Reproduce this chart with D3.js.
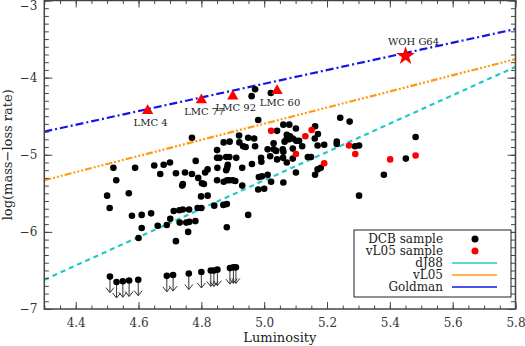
<!DOCTYPE html>
<meta charset="utf-8">
<title>Mass-loss rate vs luminosity</title>
<style>

body {
  margin: 0px;
  background: #fff;
}

text {
  font-family: "DejaVu Serif", serif;
  fill: #222;
}

.tick line {
  stroke: #444;
}

</style>

<script src="https://d3js.org/d3.v7.min.js"></script>

<body>
<script>

var width = 525, height = 346;

// DCB sample: [luminosity, log(mass-loss rate)]
var dcb = [
  [4.520,-5.17],[4.589,-5.17],[4.650,-5.14],[4.680,-5.13],[4.700,-5.10],[4.669,-5.25],[4.719,-5.24],[4.748,-5.23],
  [4.529,-5.33],[4.739,-5.40],[4.741,-5.38],[4.500,-5.53],[4.569,-5.50],[4.508,-5.69],[4.579,-5.79],[4.610,-5.78],
  [4.640,-5.76],[4.712,-5.73],[4.730,-5.72],[4.741,-5.71],[4.701,-5.83],[4.661,-5.92],[4.690,-5.91],[4.610,-5.95],
  [4.731,-5.88],[4.752,-5.88],[4.762,-5.87],[4.600,-6.08],[4.719,-6.12],[4.758,-6.00],
  [4.981,-4.55],[5.041,-4.69],[4.770,-4.78],[4.920,-4.75],[4.949,-4.78],[4.968,-4.79],[4.871,-4.84],[4.890,-4.83],
  [4.921,-4.84],[4.933,-4.89],[4.941,-4.90],[4.971,-4.89],[5.030,-4.85],[4.850,-4.94],[5.011,-4.93],[5.030,-4.93],
  [5.038,-4.95],[4.850,-5.04],[4.858,-5.04],[4.879,-5.03],[4.889,-5.03],[4.911,-5.04],[4.990,-5.04],[5.019,-5.02],
  [5.041,-5.06],[4.782,-5.08],[4.961,-5.12],[4.991,-5.09],[4.884,-5.13],[4.882,-5.17],[4.879,-5.20],[4.851,-5.17],
  [4.930,-5.17],[4.770,-5.25],[4.812,-5.23],[4.820,-5.19],[4.790,-5.30],[4.993,-5.28],[4.983,-5.29],[5.011,-5.26],
  [4.850,-5.33],[4.871,-5.35],[4.882,-5.33],[4.889,-5.33],[4.900,-5.33],[4.908,-5.34],[4.802,-5.37],[4.808,-5.38],
  [4.930,-5.40],[5.022,-5.35],[4.981,-5.45],[5.000,-5.44],[4.799,-5.54],[4.820,-5.53],[4.761,-5.71],[4.788,-5.69],
  [4.800,-5.69],[4.841,-5.66],[4.870,-5.65],[4.881,-5.64],[4.949,-5.78],[4.781,-5.86],[4.881,-5.94],
  [5.242,-4.52],[5.272,-4.57],[5.061,-4.61],[5.080,-4.61],[5.101,-4.66],[5.162,-4.63],[5.171,-4.73],[5.072,-4.74],
  [5.082,-4.76],[5.072,-4.79],[5.079,-4.80],[5.091,-4.79],[5.102,-4.82],[5.111,-4.82],[5.161,-4.79],[5.065,-4.83],
  [5.170,-4.88],[5.191,-4.87],[5.121,-4.89],[5.231,-4.83],[5.231,-4.86],[5.289,-4.89],[5.302,-4.88],[5.059,-4.93],
  [5.061,-4.96],[5.091,-4.92],[5.060,-5.04],[5.072,-5.10],[5.091,-5.05],[5.139,-5.03],[5.149,-5.03],[5.170,-5.19],
  [5.180,-5.17],[5.101,-5.23],[5.162,-5.26],[5.061,-5.36],[5.302,-5.53],
  [5.482,-4.77],[5.451,-5.05],[5.381,-5.26],
  [4.971,-4.15],[4.960,-4.24],[5.021,-4.20]
];

// vL05 sample
var vl05 = [
  [5.022,-4.69],[5.151,-4.68],[5.131,-4.76],[5.101,-4.99],[5.191,-5.11],
  [5.270,-4.88],[5.290,-4.99],[5.401,-5.06],[5.482,-5.01]
];

// DCB upper limits
var upper = [
  [4.509,-6.58],[4.530,-6.65],[4.550,-6.64],[4.570,-6.63],[4.599,-6.62],
  [4.690,-6.57],[4.710,-6.56],[4.760,-6.54],[4.800,-6.52],[4.830,-6.50],
  [4.840,-6.50],[4.851,-6.49],[4.891,-6.47],[4.902,-6.46],[4.910,-6.46]
];

// Named LMC stars (triangles) and WOH G64 (star)
var lmcNames = ["LMC 4", "LMC 77", "LMC 92", "LMC 60"];
var lmcLum   = [4.629, 4.800, 4.900, 5.041];
var lmcRate  = [-4.43, -4.29, -4.24, -4.17];
var woh = {name: "WOH G64", lum: 5.450, rate: -3.72};

// Fitted relations, value at L = 4.3 and L = 5.8
var fitNames = ["dJ88", "vL05", "Goldman"];
var fitStart = [-6.62, -5.33, -4.70];
var fitEnd   = [-3.86, -3.76, -3.37];
var fitColor = ["#22c8c8", "#ff9a10", "#1414e6"];
var fitDash  = ["5,4", "7,2,2,2,2,2,2,2", "8,3,2,3"];

var xTicks = [4.4, 4.6, 4.8, 5.0, 5.2, 5.4, 5.6, 5.8];
var yTicks = [-7, -6, -5, -4, -3];

var box = {left: 44.3, right: 515.5, top: 0.5, bottom: 309};

var x = d3.scaleLinear().domain([4.3, 5.8]).range([box.left, box.right]);
var y = d3.scaleLinear().domain([-7, -3]).range([box.bottom, box.top]);

var svg = d3.select("body").append("svg")
    .attr("width", width)
    .attr("height", height);

svg.append("clipPath").attr("id", "clip")
  .append("rect")
    .attr("x", box.left).attr("y", box.top)
    .attr("width", box.right - box.left).attr("height", box.bottom - box.top);

var plot = svg.append("g").attr("clip-path", "url(#clip)");

// fit lines
plot.selectAll("line.fit")
    .data(fitNames)
  .enter().append("line")
    .attr("class", "fit")
    .attr("x1", x(4.3))
    .attr("x2", x(5.8))
    .attr("y1", function(d, i) { return y(fitStart[i]); })
    .attr("y2", function(d, i) { return y(fitEnd[i]); })
    .style("stroke", function(d, i) { return fitColor[i]; })
    .style("stroke-width", 2.2)
    .style("stroke-dasharray", function(d, i) { return fitDash[i]; });

// upper limits: dot with a down arrow
var ul = plot.selectAll("g.ul")
    .data(upper)
  .enter().append("g")
    .attr("class", "ul")
    .attr("transform", function(d) { return "translate(" + x(d[0]) + "," + y(d[1]) + ")"; });

ul.append("path")
    .attr("d", "M0,0V16M-4,11L0,16L4,11")
    .style("fill", "none")
    .style("stroke", "#333")
    .style("stroke-width", 1);

ul.append("circle")
    .attr("r", 3.3)
    .style("fill", "#000");

plot.selectAll("circle.dcb")
    .data(dcb)
  .enter().append("circle")
    .attr("class", "dcb")
    .attr("cx", function(d) { return x(d[0]); })
    .attr("cy", function(d) { return y(d[1]); })
    .attr("r", 3.3)
    .style("fill", "#000");

plot.selectAll("circle.vl")
    .data(vl05)
  .enter().append("circle")
    .attr("class", "vl")
    .attr("cx", function(d) { return x(d[0]); })
    .attr("cy", function(d) { return y(d[1]); })
    .attr("r", 3.3)
    .style("fill", "#ff0000");

// LMC triangles and labels
var lmc = svg.selectAll("g.lmc")
    .data(lmcNames)
  .enter().append("g")
    .attr("class", "lmc")
    .attr("transform", function(d, i) { return "translate(" + x(lmcLum[i]) + "," + y(lmcRate[i]) + ")"; });

lmc.append("path")
    .attr("d", d3.symbol().type(d3.symbolTriangle).size(55))
    .style("fill", "#ff0000");

lmc.append("text")
    .attr("x", 3)
    .attr("y", 15)
    .style("font-size", "10px")
    .style("text-anchor", "middle")
    .text(function(d) { return d; });

var star = svg.append("g")
    .attr("transform", "translate(" + x(woh.lum) + "," + y(woh.rate) + ")");

star.append("path")
    .attr("d", d3.symbol().type(d3.symbolStar).size(110))
    .style("fill", "#ff0000");

star.append("text")
    .attr("x", 8)
    .attr("y", -11)
    .style("font-size", "10px")
    .style("text-anchor", "middle")
    .text(woh.name);

// axes, ticks pointing inward
function minor(lo, hi, step) {
  return d3.range(Math.round((hi - lo) / step) + 1).map(function(i) { return +(lo + i * step).toFixed(3); });
}

var xMinor = minor(4.3, 5.8, 0.05);
var yMinor = minor(-7, -3, 0.1);

svg.append("g")
    .attr("transform", "translate(0," + box.bottom + ")")
    .call(d3.axisBottom(x).tickValues(xMinor).tickSize(-3.5).tickFormat(""));
svg.append("g")
    .attr("class", "xaxis")
    .attr("transform", "translate(0," + box.bottom + ")")
    .call(d3.axisBottom(x).tickValues(xTicks).tickSize(-7).tickPadding(9).tickFormat(d3.format(".1f")));
svg.append("g")
    .attr("transform", "translate(0," + box.top + ")")
    .call(d3.axisTop(x).tickValues(xMinor).tickSize(-3.5).tickFormat(""));
svg.append("g")
    .attr("transform", "translate(0," + box.top + ")")
    .call(d3.axisTop(x).tickValues(xTicks).tickSize(-7).tickFormat(""));

svg.append("g")
    .attr("transform", "translate(" + box.left + ",0)")
    .call(d3.axisLeft(y).tickValues(yMinor).tickSize(-4.5).tickFormat(""));
svg.append("g")
    .attr("class", "yaxis")
    .attr("transform", "translate(" + box.left + ",0)")
    .call(d3.axisLeft(y).tickValues(yTicks).tickSize(-8).tickPadding(7).tickFormat(d3.format("d")));
svg.append("g")
    .attr("transform", "translate(" + box.right + ",0)")
    .call(d3.axisRight(y).tickValues(yMinor).tickSize(-4.5).tickFormat(""));
svg.append("g")
    .attr("transform", "translate(" + box.right + ",0)")
    .call(d3.axisRight(y).tickValues(yTicks).tickSize(-8).tickFormat(""));

svg.selectAll(".domain").remove();
svg.selectAll(".xaxis text, .yaxis text")
    .style("font-family", "'DejaVu Serif', serif")
    .style("font-size", "12px")
    .style("fill", "#333");

// keep the top label inside the picture
svg.selectAll(".yaxis .tick text")
    .filter(function(d) { return d === -3; })
    .attr("y", 5);

svg.append("rect")
    .attr("x", box.left).attr("y", box.top)
    .attr("width", box.right - box.left).attr("height", box.bottom - box.top)
    .style("fill", "none")
    .style("stroke", "#444")
    .style("stroke-width", 1.5);

svg.append("text")
    .attr("x", (box.left + box.right) / 2)
    .attr("y", 342)
    .style("font-size", "13px")
    .style("text-anchor", "middle")
    .text("Luminosity");

svg.append("text")
    .attr("transform", "translate(12," + (box.top + box.bottom) / 2 + ") rotate(-90)")
    .style("font-size", "13px")
    .style("text-anchor", "middle")
    .text("log(mass\u2212loss rate)");

// legend
var legend = svg.append("g");

legend.append("rect")
    .attr("x", 354).attr("y", 230)
    .attr("width", 157).attr("height", 67)
    .style("fill", "#fff")
    .style("stroke", "#222")
    .style("stroke-width", 1);

var legendLabels = ["DCB sample", "vL05 sample"].concat(fitNames);
var legendRowY = [239, 251, 263, 275, 287];

legend.selectAll("text")
    .data(legendLabels)
  .enter().append("text")
    .attr("x", 443)
    .attr("y", function(d, i) { return legendRowY[i] + 4; })
    .style("font-size", "12px")
    .style("text-anchor", "end")
    .text(function(d) { return d; });

legend.append("circle").attr("cx", 475).attr("cy", legendRowY[0]).attr("r", 3.5).style("fill", "#000");
legend.append("circle").attr("cx", 475).attr("cy", legendRowY[1]).attr("r", 3.5).style("fill", "#ff0000");

legend.selectAll("line")
    .data(fitNames)
  .enter().append("line")
    .attr("x1", 452).attr("x2", 497)
    .attr("y1", function(d, i) { return legendRowY[i + 2]; })
    .attr("y2", function(d, i) { return legendRowY[i + 2]; })
    .style("stroke", function(d, i) { return fitColor[i]; })
    .style("stroke-width", 1.5);

</script>
